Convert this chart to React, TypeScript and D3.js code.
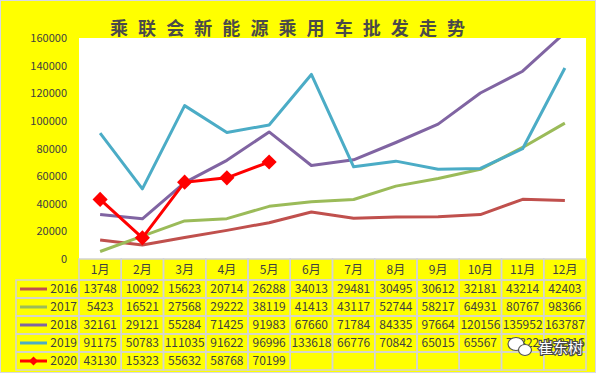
import { useEffect, useRef } from "react";
import * as d3 from "d3";

const months = ["1月", "2月", "3月", "4月", "5月", "6月", "7月", "8月", "9月", "10月", "11月", "12月"];
const years = ["2016", "2017", "2018", "2019", "2020"];
const sales2016 = [13748, 10092, 15623, 20714, 26288, 34013, 29481, 30495, 30612, 32181, 43214, 42403];
const sales2017 = [5423, 16521, 27568, 29222, 38119, 41413, 43117, 52744, 58217, 64931, 80767, 98366];
const sales2018 = [32161, 29121, 55284, 71425, 91983, 67660, 71784, 84335, 97664, 120156, 135952, 163787];
const sales2019 = [91175, 50783, 111035, 91622, 96996, 133618, 66776, 70842, 65015, 65567, 79822, 138316];
const sales2020 = [43130, 15323, 55632, 58768, 70199];
const yTicks = [0, 20000, 40000, 60000, 80000, 100000, 120000, 140000, 160000];
const title = "乘联会新能源乘用车批发走势";

const lineColors = ["#C0504D", "#9BBB59", "#8064A2", "#4BACC6", "#FF0000"];

export default function App() {
  const ref = useRef<SVGSVGElement>(null);

  useEffect(() => {
    const W = 597;
    const H = 374;
    const PLOT = { LEFT: 79, RIGHT: 586, TOP: 38, BOTTOM: 259 };
    const TEXT = "#404040";
    const GRID = "#d4d4d4";
    const FONT = "'Noto Sans CJK SC', 'Noto Sans', sans-serif";
    const series = [sales2016, sales2017, sales2018, sales2019, sales2020];

    const svg = d3.select(ref.current);
    svg.selectAll("*").remove();
    svg.attr("width", W).attr("height", H).style("font-family", FONT);

    // background
    svg.append("rect")
      .attr("x", 0.5).attr("y", 0.5)
      .attr("width", W - 2).attr("height", H - 2)
      .attr("fill", "#FFFF00")
      .attr("stroke", "#d8d8e4");

    svg.append("rect")
      .attr("x", PLOT.LEFT).attr("y", PLOT.TOP)
      .attr("width", PLOT.RIGHT - PLOT.LEFT).attr("height", PLOT.BOTTOM - PLOT.TOP)
      .attr("fill", "#ffffff");

    // title
    svg.append("text")
      .attr("x", 110).attr("y", 35)
      .attr("textLength", 355).attr("lengthAdjust", "spacing")
      .attr("font-size", 18).attr("font-weight", "bold")
      .attr("fill", "#4a4a4a")
      .text(title);

    const x = d3.scaleBand().domain(months).range([PLOT.LEFT, PLOT.RIGHT]);
    const y = d3.scaleLinear().domain([0, 160000]).range([PLOT.BOTTOM, PLOT.TOP]);

    // y axis
    const yAxis = svg.append("g")
      .attr("transform", `translate(${PLOT.LEFT - 9}, 0)`)
      .call(d3.axisLeft(y).tickValues(yTicks).tickSize(0).tickFormat(d3.format("d")));
    yAxis.select(".domain").remove();
    yAxis.selectAll("text")
      .attr("font-size", 11).attr("fill", TEXT)
      .attr("font-family", FONT);

    // lines
    svg.append("clipPath").attr("id", "plotClip")
      .append("rect")
      .attr("x", PLOT.LEFT).attr("y", PLOT.TOP)
      .attr("width", PLOT.RIGHT - PLOT.LEFT).attr("height", PLOT.BOTTOM - PLOT.TOP);

    const line = d3.line<number>()
      .x((_, i) => (x(months[i]) as number) + x.bandwidth() / 2)
      .y(d => y(d));

    const lines = svg.append("g").attr("clip-path", "url(#plotClip)");
    series.forEach((s, i) => {
      lines.append("path")
        .datum(s)
        .attr("fill", "none")
        .attr("stroke", lineColors[i])
        .attr("stroke-width", 3)
        .attr("stroke-linejoin", "round")
        .attr("d", line);
    });

    const diamond = d3.symbol(d3.symbolSquare, 115);
    svg.append("g")
      .selectAll("path")
      .data(sales2020)
      .join("path")
      .attr("d", diamond)
      .attr("fill", "#FF0000")
      .attr("transform", (d, i) =>
        `translate(${(x(months[i]) as number) + x.bandwidth() / 2}, ${y(d)}) rotate(45)`);

    // data table
    const headerTop = PLOT.BOTTOM;
    const headerBottom = 280;
    const rows = d3.scaleBand().domain(years).range([headerBottom, 370]);
    const keyLeft = 16;

    const table = svg.append("g");

    // header cells
    months.forEach(m => {
      table.append("rect")
        .attr("x", x(m) as number).attr("y", headerTop)
        .attr("width", x.bandwidth()).attr("height", headerBottom - headerTop)
        .attr("fill", "none").attr("stroke", GRID).attr("stroke-width", 1.5);
      table.append("text")
        .attr("x", (x(m) as number) + x.bandwidth() / 2)
        .attr("y", (headerTop + headerBottom) / 2)
        .attr("dy", "0.35em")
        .attr("text-anchor", "middle")
        .attr("font-size", 12).attr("fill", TEXT)
        .text(m);
    });

    years.forEach((yr, i) => {
      const top = rows(yr) as number;
      const mid = top + rows.bandwidth() / 2;
      table.append("rect")
        .attr("x", keyLeft).attr("y", top)
        .attr("width", PLOT.LEFT - keyLeft).attr("height", rows.bandwidth())
        .attr("fill", "none").attr("stroke", GRID).attr("stroke-width", 1.5);
      table.append("line")
        .attr("x1", 20).attr("x2", 47)
        .attr("y1", mid).attr("y2", mid)
        .attr("stroke", lineColors[i]).attr("stroke-width", 3);
      if (i === 4) {
        table.append("path")
          .attr("d", d3.symbol(d3.symbolSquare, 40)())
          .attr("fill", lineColors[i])
          .attr("transform", `translate(33.5, ${mid}) rotate(45)`);
      }
      table.append("text")
        .attr("x", 77).attr("y", mid).attr("dy", "0.35em")
        .attr("text-anchor", "end")
        .attr("font-size", 12).attr("fill", TEXT)
        .text(yr);

      months.forEach((m, j) => {
        table.append("rect")
          .attr("x", x(m) as number).attr("y", top)
          .attr("width", x.bandwidth()).attr("height", rows.bandwidth())
          .attr("fill", "none").attr("stroke", GRID).attr("stroke-width", 1.5);
        const v = series[i][j];
        if (v !== undefined) {
          table.append("text")
            .attr("x", (x(m) as number) + x.bandwidth() / 2)
            .attr("y", mid).attr("dy", "0.35em")
            .attr("text-anchor", "middle")
            .attr("font-size", 12).attr("fill", TEXT)
            .text(v);
        }
      });
    });

    // watermark
    const wm = svg.append("g").attr("transform", "translate(520, 347)");
    wm.append("ellipse")
      .attr("cx", -4).attr("cy", -3).attr("rx", 8).attr("ry", 6.5)
      .attr("fill", "#fff").attr("stroke", "#555").attr("stroke-width", 1.2);
    wm.append("ellipse")
      .attr("cx", 5).attr("cy", 3).attr("rx", 6.5).attr("ry", 5.5)
      .attr("fill", "#fff").attr("stroke", "#555").attr("stroke-width", 1.2);
    wm.append("text")
      .attr("x", 18).attr("y", 6)
      .attr("font-size", 15)
      .attr("fill", "#ffffff")
      .attr("stroke", "#4a4a4a").attr("stroke-width", 2.2)
      .attr("paint-order", "stroke")
      .text("崔东树");
  }, []);

  return (
    <div style={{ position: "absolute", left: 0, top: 0 }}>
      <svg ref={ref} />
    </div>
  );
}
